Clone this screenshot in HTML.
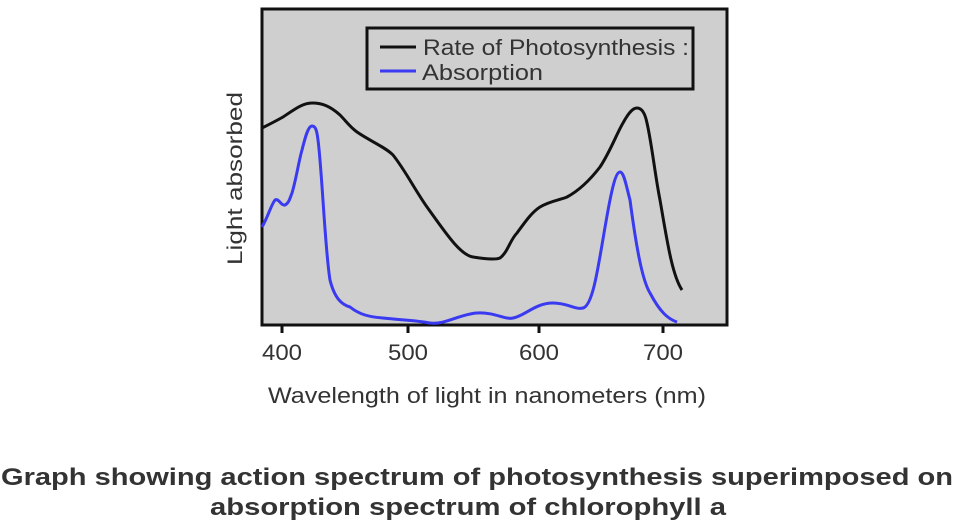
<!DOCTYPE html>
<html><head><meta charset="utf-8"><style>
html,body{margin:0;padding:0;background:#fff;}
svg{display:block;}
text{font-family:"Liberation Sans",sans-serif;fill:#333;}
</style></head><body>
<svg width="954" height="524" viewBox="0 0 954 524" xmlns="http://www.w3.org/2000/svg">
<rect x="262" y="9" width="465" height="316" fill="#cfcfcf" stroke="#111" stroke-width="3"/>
<g stroke="#111" stroke-width="3">
<line x1="282" y1="325" x2="282" y2="333"/>
<line x1="408" y1="325" x2="408" y2="333"/>
<line x1="539" y1="325" x2="539" y2="333"/>
<line x1="663" y1="325" x2="663" y2="333"/>
</g>
<rect x="367" y="28" width="326" height="61" fill="none" stroke="#111" stroke-width="3"/>
<line x1="380" y1="47" x2="416" y2="47" stroke="#111" stroke-width="3"/>
<line x1="380" y1="71" x2="416" y2="71" stroke="#3a3af0" stroke-width="3"/>
<text x="423" y="55" font-size="22" textLength="266" lengthAdjust="spacingAndGlyphs">Rate of Photosynthesis :</text>
<text x="422" y="80" font-size="22" textLength="121" lengthAdjust="spacingAndGlyphs">Absorption</text>
<path fill="none" stroke="#111" stroke-width="3" d="M262,128 C270,124 276,121 283,117 C295,109 303,103 312,103 C322,103 330,106 340,115 C346,121 350,127 357,132 C370,141 385,147 393,155 C405,170 415,190 427,207 C445,232 460,255 473,257 C485,259 495,260 500,258 C508,252 510,240 517,233 C525,222 532,212 540,207 C550,201 560,200 567,197 C580,190 590,180 600,167 C610,152 617,133 623,123 C629,112 633,108 637,108 C642,108 645,113 647,123 C652,145 655,175 660,200 C667,240 672,275 682,290"/>
<path fill="none" stroke="#3a3af0" stroke-width="3" d="M262,227 C268,217 271,205 275,200 C279,198 281,206 285,205 C289,203 290,198 292,193 C296,180 299,160 302,150 C305,138 308,126 312,126 C316,126 317,132 318,140 C322,170 325,250 330,280 C335,300 343,305 350,307 C360,315 370,317 383,318 C400,320 415,320 430,323 C445,325 460,314 477,313 C495,312 505,320 513,318 C525,316 535,303 553,303 C568,303 575,310 583,308 C595,305 600,250 610,200 C614,180 617,172 620,172 C624,172 626,185 630,200 C636,245 642,280 650,293 C660,312 668,319 677,322"/>
<text x="262" y="360" font-size="22" textLength="40" lengthAdjust="spacingAndGlyphs">400</text>
<text x="388" y="360" font-size="22" textLength="40" lengthAdjust="spacingAndGlyphs">500</text>
<text x="519" y="360" font-size="22" textLength="40" lengthAdjust="spacingAndGlyphs">600</text>
<text x="643" y="360" font-size="22" textLength="40" lengthAdjust="spacingAndGlyphs">700</text>
<text transform="translate(242,265) rotate(-90)" font-size="21" textLength="173" lengthAdjust="spacingAndGlyphs">Light absorbed</text>
<text x="268" y="403" font-size="22" textLength="438" lengthAdjust="spacingAndGlyphs">Wavelength of light in nanometers (nm)</text>
<text x="1" y="485" font-size="24" font-weight="bold" textLength="952" lengthAdjust="spacingAndGlyphs">Graph showing action spectrum of photosynthesis superimposed on</text>
<text x="210" y="515" font-size="24" font-weight="bold" textLength="516" lengthAdjust="spacingAndGlyphs">absorption spectrum of chlorophyll a</text>
</svg>
</body></html>
